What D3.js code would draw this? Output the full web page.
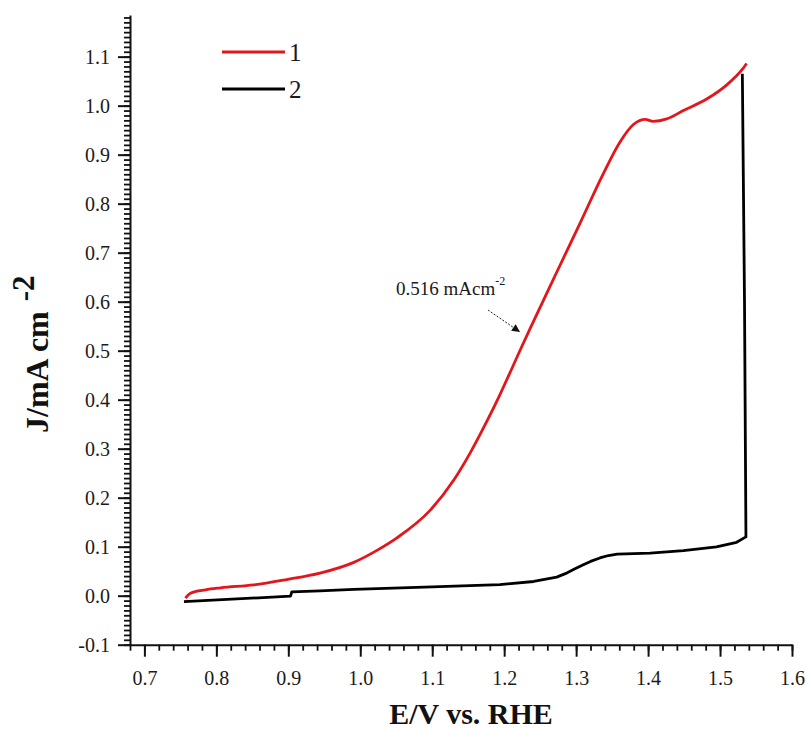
<!DOCTYPE html>
<html><head><meta charset="utf-8">
<script src="https://cdn.jsdelivr.net/npm/d3@7"></script>
<style>
body{margin:0;background:#fff;}
svg{display:block;}
text{font-family:"Liberation Serif","Times New Roman",serif;}
</style>
</head><body>
<svg id="chart" width="808" height="729"></svg>
<script>
// ---- data ----
const seriesNames = ["1", "2"];
const seriesColors = ["#e3161b", "#000000"];

const curve1E = [0.757, 0.764, 0.785, 0.806, 0.852, 0.898, 0.944, 0.991, 1.025, 1.051, 1.097, 1.130, 1.153, 1.176, 1.194, 1.225, 1.236, 1.273, 1.306, 1.338, 1.361, 1.380, 1.396, 1.407, 1.426, 1.449, 1.482, 1.509, 1.532, 1.537];
const curve1J = [-0.005, 0.005, 0.012, 0.016, 0.022, 0.033, 0.046, 0.068, 0.094, 0.118, 0.174, 0.236, 0.292, 0.356, 0.410, 0.510, 0.545, 0.660, 0.762, 0.862, 0.926, 0.962, 0.972, 0.968, 0.973, 0.990, 1.014, 1.042, 1.076, 1.086];

const curve2E = [0.755, 0.903, 0.905, 0.944, 0.991, 1.100, 1.194, 1.241, 1.273, 1.285, 1.297, 1.310, 1.320, 1.333, 1.345, 1.357, 1.380, 1.403, 1.449, 1.495, 1.523, 1.536, 1.534, 1.531];
const curve2J = [-0.012, -0.001, 0.008, 0.010, 0.013, 0.018, 0.0225, 0.029, 0.038, 0.045, 0.054, 0.063, 0.070, 0.077, 0.082, 0.085, 0.086, 0.087, 0.092, 0.0996, 0.109, 0.120, 0.600, 1.065];

const xTickValues = [0.7, 0.8, 0.9, 1.0, 1.1, 1.2, 1.3, 1.4, 1.5, 1.6];
const yTickValues = [-0.1, 0.0, 0.1, 0.2, 0.3, 0.4, 0.5, 0.6, 0.7, 0.8, 0.9, 1.0, 1.1];
const xTitle = "E/V vs. RHE";
const yTitle = "J/mA cm";
const yTitleSup = "-2";
const annotationText = "0.516 mAcm";
const annotationSup = "-2";

// ---- layout ----
const FONT = '"Liberation Serif","Times New Roman",serif';
const svg = d3.select("#chart");
const x = d3.scaleLinear().domain([0.68, 1.6]).range([130, 792]);
const y = d3.scaleLinear().domain([-0.1, 1.185]).range([644.7, 15]);

const xMinor = d3.range(0.68, 1.6001, 0.02).map(v => +v.toFixed(2));
const yMinor = d3.range(-0.1, 1.1801, 0.01).map(v => +v.toFixed(2));

// minor ticks
svg.append("g").attr("transform", `translate(0,${y.range()[0]})`)
  .call(d3.axisBottom(x).tickValues(xMinor).tickSize(6).tickSizeOuter(0).tickFormat(""))
  .call(g => g.select(".domain").remove())
  .call(g => g.selectAll("line").attr("stroke", "#111").attr("stroke-width", 1.8));
svg.append("g").attr("transform", `translate(${x.range()[0]},0)`)
  .call(d3.axisLeft(y).tickValues(yMinor).tickSize(6).tickSizeOuter(0).tickFormat(""))
  .call(g => g.select(".domain").remove())
  .call(g => g.selectAll("line").attr("stroke", "#111").attr("stroke-width", 1.8));

// major axes
const fmt = d => d.toFixed(1);
const xAxisG = svg.append("g").attr("transform", `translate(0,${y.range()[0]})`)
  .call(d3.axisBottom(x).tickValues(xTickValues).tickSize(12).tickSizeOuter(0).tickPadding(14).tickFormat(fmt));
const yAxisG = svg.append("g").attr("transform", `translate(${x.range()[0]},0)`)
  .call(d3.axisLeft(y).tickValues(yTickValues).tickSize(12).tickSizeOuter(0).tickPadding(8).tickFormat(fmt));
[xAxisG, yAxisG].forEach(g => {
  g.attr("font-family", FONT).attr("font-size", 20);
  g.select(".domain").attr("stroke", "#111").attr("stroke-width", 2);
  g.selectAll(".tick line").attr("stroke", "#111").attr("stroke-width", 2);
  g.selectAll(".tick text").attr("fill", "#1a1a1a").style("font-size", "20px").style("font-family", FONT);
});

// curves
const line = d3.line().x(d => x(d[0])).y(d => y(d[1]));
const c1 = curve1E.map((e, i) => [e, curve1J[i]]);
const c2 = curve2E.map((e, i) => [e, curve2J[i]]);
svg.append("path").datum(c2).attr("fill", "none").attr("stroke", seriesColors[1])
  .attr("stroke-width", 2.8).attr("stroke-linejoin", "round")
  .attr("d", line.curve(d3.curveLinear));
svg.append("path").datum(c1).attr("fill", "none").attr("stroke", seriesColors[0])
  .attr("stroke-width", 2.8).attr("stroke-linejoin", "round")
  .attr("d", line.curve(d3.curveMonotoneX));

// legend
const legY = [52, 89];
seriesNames.forEach((n, i) => {
  svg.append("line").attr("x1", 222).attr("x2", 285).attr("y1", legY[i]).attr("y2", legY[i])
    .attr("stroke", seriesColors[i]).attr("stroke-width", 3);
  svg.append("text").attr("x", 289).attr("y", legY[i] + 9).style("font-size", "25px")
    .attr("fill", "#1a1a1a").text(n);
});

// annotation
const ann = svg.append("text").attr("x", 396).attr("y", 295).style("font-size", "19px").attr("fill", "#1a1a1a");
ann.append("tspan").text(annotationText);
ann.append("tspan").attr("dy", -10).style("font-size", "12px").text(annotationSup);

svg.append("defs").append("marker").attr("id", "ah").attr("viewBox", "0 0 10 10")
  .attr("refX", 10).attr("refY", 5).attr("markerWidth", 11).attr("markerHeight", 8)
  .attr("markerUnits", "userSpaceOnUse").attr("orient", "auto")
  .append("path").attr("d", "M0,0 L10,5 L0,10 Z").attr("fill", "#111");
svg.append("line").attr("x1", 488).attr("y1", 310).attr("x2", 520).attr("y2", 332)
  .attr("stroke", "#222").attr("stroke-width", 1).attr("stroke-dasharray", "2,1.5")
  .attr("marker-end", "url(#ah)");

// axis titles
svg.append("text").attr("x", 471).attr("y", 724).attr("text-anchor", "middle")
  .style("font-size", "30px").style("font-weight", "bold").attr("fill", "#111").text(xTitle);
const yt = svg.append("text").attr("transform", "translate(48,433) rotate(-90)")
  .style("font-size", "32px").style("font-weight", "bold").attr("fill", "#111");
yt.append("tspan").text(yTitle);
yt.append("tspan").attr("dx", 10).attr("dy", -14).style("font-size", "31px").text(yTitleSup);
</script>
</body></html>
